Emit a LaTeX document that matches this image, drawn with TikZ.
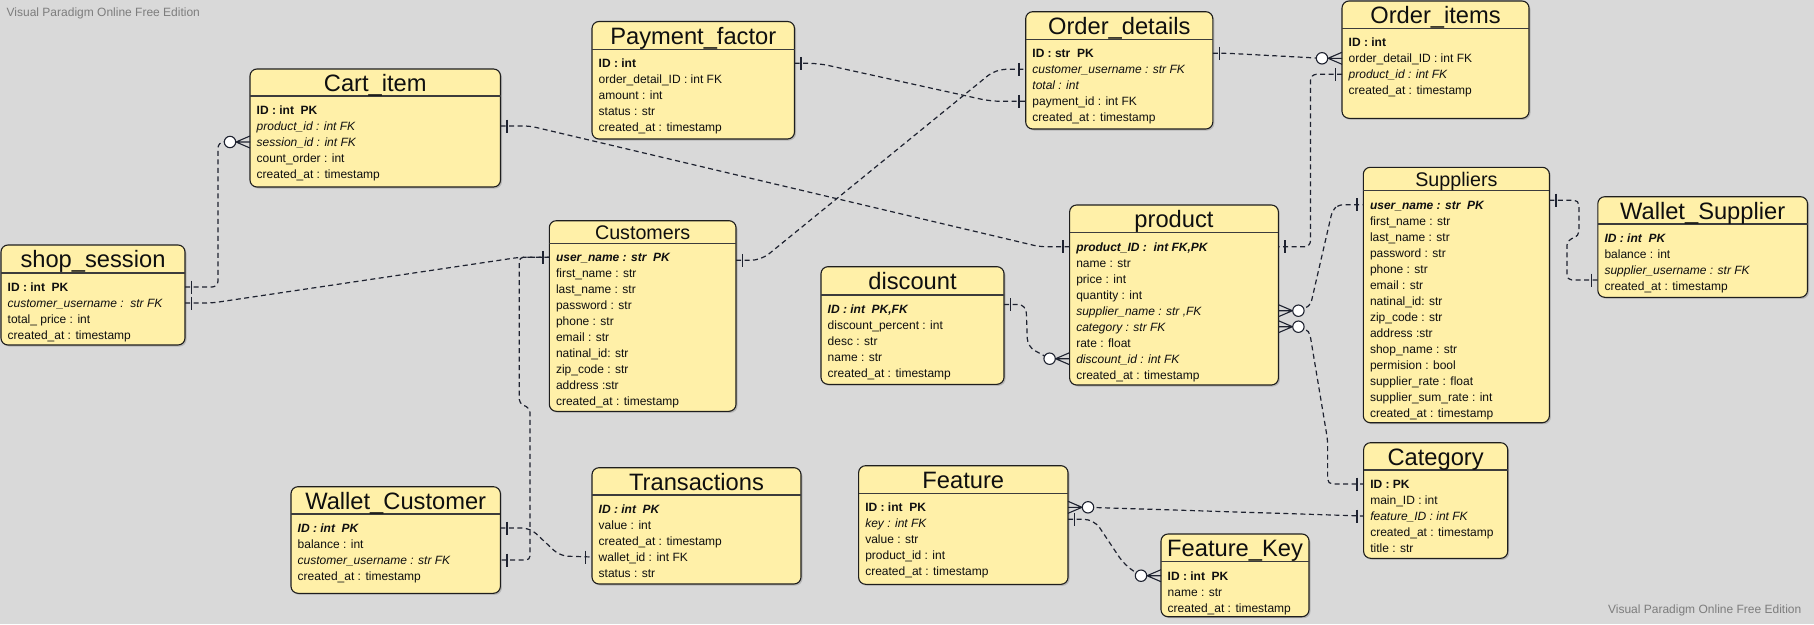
\documentclass[tikz,border=0pt]{standalone}
\usepackage{fontspec}
\setmainfont{Liberation Sans}
\usetikzlibrary{shadows,calc}
\definecolor{bgc}{RGB}{217,217,217}
\definecolor{boxfill}{RGB}{255,240,168}
\definecolor{boxline}{RGB}{30,30,30}
\definecolor{hdrline}{RGB}{60,60,60}
\definecolor{linec}{RGB}{30,34,48}
\definecolor{txt}{RGB}{15,15,15}
\definecolor{wmgray}{RGB}{125,125,125}
\tikzset{
  ebox/.style={draw=boxline, line width=1.1pt, fill=boxfill, rounded corners=7pt, inner sep=0pt, outer sep=0pt,
    drop shadow={shadow xshift=1.5pt, shadow yshift=-1.5pt, opacity=0.3, fill=black!60}},
  hdr/.style={draw=hdrline, line width=1.2pt},
  ttl/.style={inner sep=0pt, text height=17pt, text depth=0pt, font=\fontsize{23.7}{26}\selectfont, text=txt},
  ttls/.style={inner sep=0pt, text height=14.1pt, text depth=0pt, font=\fontsize{19.7}{22}\selectfont, text=txt},
  rowtxt/.style={anchor=west, inner sep=0pt, text height=10pt, text depth=1.4pt, font=\fontsize{12}{14}\selectfont, text=txt},
  conn/.style={draw=linec, line width=1.2pt, dash pattern=on 5pt off 3.5pt, rounded corners=6pt},
  barl/.style={draw=linec, line width=1.6pt},
  crowl/.style={draw=linec, line width=1.1pt},
  wm/.style={text=wmgray, font=\fontsize{12}{14}\selectfont, inner sep=0pt},
}
\newcommand\erbox[9]{%
  \node[ebox, anchor=north west, minimum width={#4-#2}, minimum height={#6-#3}] (#1) at (#2,#3) {};
  \draw[hdr] (#2,#5) -- (#4,#5);
  \node[#7] (#1-t) at ({(#2+#4)/2},{(#3+#5)/2+0.3}) {#8};
  \foreach \rw [count=\i] in {#9} {\node[rowtxt] (#1-\i) at ({#2+6.5},{#5+14+16*(\i-1)}) {\rw};}
}
\newcommand\onebar[2]{\draw[barl] ($(#1)+(#2*6.5,-6.5)$) -- ($(#1)+(#2*6.5,6.5)$);}
\newcommand\crowcirc[2]{%
  \draw[crowl] ($(#1)+(0,-6)$) -- ($(#1)+(#2*14,0)$) -- ($(#1)+(0,6)$) (#1) -- ($(#1)+(#2*14,0)$);
  \draw[crowl, fill=white] ($(#1)+(#2*20,0)$) circle[radius=5.7pt];
}
\begin{document}
\begin{tikzpicture}[x=1pt,y=-1pt]
\useasboundingbox (0,0) rectangle (1814,624);
\fill[bgc] (0,0) rectangle (1814,624);
\node[wm, anchor=base west] (wm1) at (6.5,16.7) {Visual Paradigm Online Free Edition};
\node[wm, anchor=base east] (wm2) at (1801.5,613) {Visual Paradigm Online Free Edition};

\erbox{cart}{250}{69}{500.5}{96}{187}{ttl}{Cart\_item}{\textbf{ID : int~~PK}, \textit{product\_id : int FK}, \textit{session\_id : int FK}, count\_order : int, created\_at : timestamp}
\erbox{shop}{1}{245}{185}{273}{345}{ttl}{shop\_session}{\textbf{ID : int~~PK}, \textit{customer\_username :~~str FK}, total\_ price : int, created\_at : timestamp}
\erbox{pay}{592}{21.5}{794.5}{49.3}{139}{ttl}{Payment\_factor}{\textbf{ID : int}, order\_detail\_ID : int FK, amount : int, status : str, created\_at : timestamp}
\erbox{od}{1025.7}{11.7}{1212.8}{39.3}{129}{ttl}{Order\_details}{\textbf{ID : str~~PK}, \textit{customer\_username : str FK}, \textit{total : int}, payment\_id : int FK, created\_at : timestamp}
\erbox{oi}{1342}{1}{1529}{28.3}{118.3}{ttl}{Order\_items}{\textbf{ID : int}, order\_detail\_ID : int FK, \textit{product\_id : int FK}, created\_at : timestamp}
\erbox{cust}{549.3}{220.7}{736}{243.3}{411.3}{ttls}{Customers}{\textbf{\textit{user\_name : str~~PK}}, first\_name : str, last\_name : str, password : str, phone : str, email : str, natinal\_id: str, zip\_code : str, address :str, created\_at : timestamp}
\erbox{disc}{821}{266.7}{1004}{295}{384.3}{ttl}{discount}{\textbf{\textit{ID : int~~PK,FK}}, discount\_percent : int, desc : str, name : str, created\_at : timestamp}
\erbox{prod}{1069.6}{205}{1278.4}{232.7}{385}{ttl}{product}{\textbf{\textit{product\_ID :~~int FK,PK}}, name : str, price : int, quantity : int, \textit{supplier\_name : str ,FK}, \textit{category : str FK}, rate : float, \textit{discount\_id : int FK}, created\_at : timestamp}
\erbox{sup}{1363.3}{167.3}{1549.4}{190.7}{422.7}{ttls}{Suppliers}{\textbf{\textit{user\_name : str~~PK}}, first\_name : str, last\_name : str, password : str, phone : str, email : str, natinal\_id: str, zip\_code : str, address :str, shop\_name : str, permision : bool, supplier\_rate : float, supplier\_sum\_rate : int, created\_at : timestamp}
\erbox{wsup}{1597.8}{196.7}{1807.5}{224}{297.3}{ttl}{Wallet\_Supplier}{\textbf{\textit{ID : int~~PK}}, balance : int, \textit{supplier\_username : str FK}, created\_at : timestamp}
\erbox{wcust}{291}{486.7}{500.4}{514}{593.3}{ttl}{Wallet\_Customer}{\textbf{\textit{ID : int~~PK}}, balance : int, \textit{customer\_username : str FK}, created\_at : timestamp}
\erbox{trans}{592}{467.7}{801}{495}{584}{ttl}{Transactions}{\textbf{\textit{ID : int~~PK}}, value : int, created\_at : timestamp, wallet\_id : int FK, status : str}
\erbox{feat}{858.6}{465.7}{1068}{493.3}{584.3}{ttl}{Feature}{\textbf{ID : int~~PK}, \textit{key : int FK}, value : str, product\_id : int, created\_at : timestamp}
\erbox{fkey}{1161}{534}{1309}{561.7}{616.7}{ttl}{Feature\_Key}{\textbf{ID : int~~PK}, name : str, created\_at : timestamp}
\erbox{cat}{1363.6}{442.7}{1507.7}{470}{558.3}{ttl}{Category}{\textbf{ID : PK}, main\_ID : int, \textit{feature\_ID : int FK}, created\_at : timestamp, title : str}

% endpoints
\coordinate (a1) at (shop.east |- shop-1);
\coordinate (a2) at (cart.west |- cart-3);
\coordinate (b1) at (shop.east |- shop-2);
\coordinate (b2) at (cust.west |- cust-1);
\coordinate (c2) at (wcust.east |- wcust-3);
\coordinate (d1) at (wcust.east |- wcust-1);
\coordinate (d2) at (trans.west |- trans-4);
\coordinate (e1) at (cart.east |- cart-2);
\coordinate (e2) at (prod.west |- prod-1);
\coordinate (f1) at ($(cust.east |- cust-1)+(0,3)$);
\coordinate (f2) at (od.west |- od-2);
\coordinate (g1) at (pay.east |- pay-1);
\coordinate (g2) at (od.west |- od-4);
\coordinate (h1) at (od.east |- od-1);
\coordinate (h2) at (oi.west |- oi-2);
\coordinate (i1) at (oi.west |- oi-3);
\coordinate (i2) at (prod.east |- prod-1);
\coordinate (j1) at (prod.east |- prod-5);
\coordinate (j2) at (sup.west |- sup-1);
\coordinate (k1) at (prod.east |- prod-6);
\coordinate (k2) at (cat.west |- cat-1);
\coordinate (l1) at ($(disc.east |- disc-1)+(0,-4.5)$);
\coordinate (l2) at (prod.west |- prod-8);
\coordinate (m1) at ($(sup.east |- sup-1)+(0,-4.5)$);
\coordinate (m2) at ($(wsup.west |- wsup-3)+(0,10)$);
\coordinate (n1) at (feat.east |- feat-1);
\coordinate (n2) at (cat.west |- cat-3);
\coordinate (o1) at ($(feat.east |- feat-2)+(0,-4)$);
\coordinate (o2) at (fkey.west |- fkey-1);

% connectors
\draw[conn] (a1) -- ++(33,0) |- ($(a2)+(-20,0)$);
\draw[conn] (b1) -- ++(27,0) -- ($(b2)+(-30,0)$) -- (b2);
\draw[conn, rounded corners=4pt] (b2) -- ++(-30,0) -- ++(0,146) -- ++(10.7,5) |- (c2);
\draw[conn, rounded corners=8pt] (d1) -- ++(29.6,0) -- ($(d2)+(-32,-1)$) -- (d2);
\draw[conn] (e1) -- ++(29.5,0) -- ($(e2)+(-30,0)$) -- (e2);
\draw[conn, rounded corners=10pt] (f1) -- ++(25,0) -- ($(f2)+(-30,0)$) -- (f2);
\draw[conn, rounded corners=10pt] (g1) -- ++(24,0) -- ($(g2)+(-35,0)$) -- (g2);
\draw[conn] (h1) -- ++(15,0) -- ($(h2)+(-20,0)$);
\draw[conn] (i1) -- ++(-31.5,0) |- (i2);
\draw[conn, rounded corners=5pt] ($(j1)+(20,0)$) -- ++(12,-5) -- ($(j2)+(-31,6)$) -- ++(6,-6) -- (j2);
\draw[conn, rounded corners=5pt] ($(k1)+(20,0)$) -- ++(11,4) -- ($(k2)+(-36,-44)$) |- (k2);
\draw[conn, rounded corners=8pt] (l1) -- ++(22,0) -- ($(l2)+(-42,-12)$) -- ($(l2)+(-20,0)$);
\draw[conn, rounded corners=5pt] (m1) -- ++(29.5,0) -- ++(0,36) -- ++(-12,4) |- (m2);
\draw[conn] ($(n1)+(20,0)$) -- (n2);
\draw[conn, rounded corners=10pt] (o1) -- ++(26,0) -- ($(o2)+(-36,-10)$) -- ($(o2)+(-20,0)$);

% markers
\onebar{a1}{1} \onebar{b1}{1} \onebar{b2}{-1} \onebar{c2}{1}
\onebar{d1}{1} \onebar{d2}{-1} \onebar{e1}{1} \onebar{e2}{-1}
\onebar{f1}{1} \onebar{f2}{-1} \onebar{g1}{1} \onebar{g2}{-1}
\onebar{h1}{1} \onebar{i1}{-1} \onebar{i2}{1} \onebar{j2}{-1}
\onebar{k2}{-1} \onebar{l1}{1} \onebar{m1}{1} \onebar{m2}{-1}
\onebar{n2}{-1} \onebar{o1}{1}
\crowcirc{a2}{-1} \crowcirc{h2}{-1} \crowcirc{j1}{1} \crowcirc{k1}{1}
\crowcirc{l2}{-1} \crowcirc{n1}{1} \crowcirc{o2}{-1}
\end{tikzpicture}
\end{document}
